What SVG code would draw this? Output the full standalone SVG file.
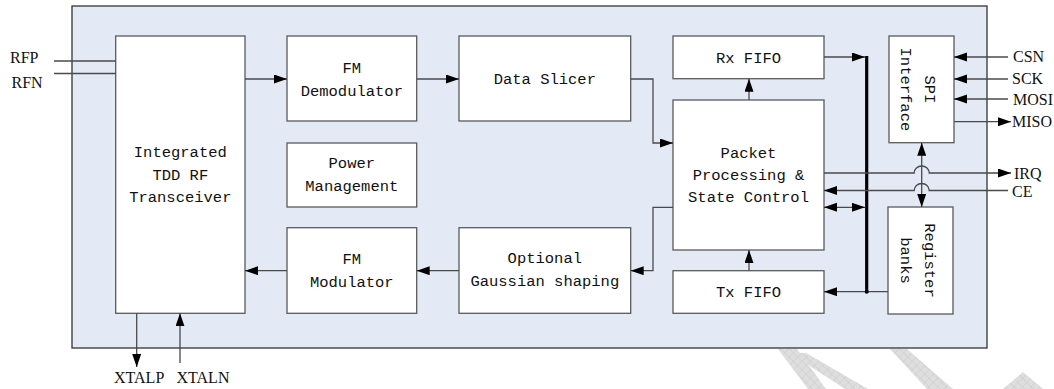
<svg xmlns="http://www.w3.org/2000/svg" width="1054" height="389" viewBox="0 0 1054 389">
  <defs>
    <marker id="arrow" markerUnits="userSpaceOnUse" markerWidth="14" markerHeight="10" refX="13" refY="4.5" orient="auto-start-reverse">
      <path d="M0,0 L13,4.5 L0,9 z" fill="#000"/>
    </marker>
    <pattern id="hatch" patternUnits="userSpaceOnUse" width="6" height="6" patternTransform="rotate(45)">
      <rect width="6" height="6" fill="#dedede"/>
      <path d="M0,0 H6 M0,0 V6" stroke="#cbcbcb" stroke-width="1"/>
    </pattern>
    <style>
      .frame { fill: #e4eaf5; stroke: #333; stroke-width: 1.3; }
      .box { fill: #fff; stroke: #5a5a5a; stroke-width: 1.3; }
      .t { font-family: "Liberation Mono", "DejaVu Sans Mono", monospace; font-size: 15.5px; fill: #111; text-anchor: middle; }
      .pin { font-family: "Liberation Serif", "Times New Roman", serif; font-size: 16px; fill: #111; }
      .wire { fill: none; stroke: #4a4a4a; stroke-width: 1.3; }
      .bus { fill: none; stroke: #000; stroke-width: 3.2; }
      .mark { fill: url(#hatch); stroke: none; }
    </style>
  </defs>

  <rect width="1054" height="389" fill="#fff"/>

  <!-- background marks below the chip outline -->
  <g id="background-marks">
    <polygon class="mark" points="778,349 797,349 826,389 808,389"/>
    <polygon class="mark" points="790,353 806,353 868,389 845,389"/>
    <polygon class="mark" points="890,349 907,349 953,389 927,389"/>
    <polygon class="mark" points="1023,372 1043,389 1003,389"/>
  </g>

  <!-- chip outline -->
  <rect id="chip" class="frame" x="72" y="6" width="915" height="342"/>

  <g id="transceiver">
    <rect class="box" x="115.7" y="36" width="129.3" height="277.3"/>
    <text class="t" x="180.3" y="157">Integrated</text>
    <text class="t" x="180.3" y="179.5">TDD RF</text>
    <text class="t" x="180.3" y="202">Transceiver</text>
  </g>

  <g id="fm-demodulator">
    <rect class="box" x="287" y="36" width="129.7" height="85"/>
    <text class="t" x="351.8" y="73">FM</text>
    <text class="t" x="351.8" y="96">Demodulator</text>
  </g>

  <g id="power-management">
    <rect class="box" x="287" y="143" width="129.7" height="64"/>
    <text class="t" x="351.8" y="168">Power</text>
    <text class="t" x="351.8" y="190.5">Management</text>
  </g>

  <g id="fm-modulator">
    <rect class="box" x="287" y="227.7" width="129.7" height="85.6"/>
    <text class="t" x="351.8" y="263.5">FM</text>
    <text class="t" x="351.8" y="287">Modulator</text>
  </g>

  <g id="data-slicer">
    <rect class="box" x="459" y="36" width="171.7" height="85"/>
    <text class="t" x="544.8" y="84">Data Slicer</text>
  </g>

  <g id="gaussian-shaping">
    <rect class="box" x="459" y="227.7" width="171.7" height="85.6"/>
    <text class="t" x="544.8" y="262.5">Optional</text>
    <text class="t" x="544.8" y="285.5">Gaussian shaping</text>
  </g>

  <g id="rx-fifo">
    <rect class="box" x="673" y="36" width="151" height="42.7"/>
    <text class="t" x="748.5" y="63">Rx FIFO</text>
  </g>

  <g id="packet-processing">
    <rect class="box" x="673" y="100" width="151" height="150"/>
    <text class="t" x="748.5" y="158">Packet</text>
    <text class="t" x="748.5" y="180">Processing &amp;</text>
    <text class="t" x="748.5" y="202">State Control</text>
  </g>

  <g id="tx-fifo">
    <rect class="box" x="673" y="270.7" width="151" height="42.6"/>
    <text class="t" x="748.5" y="297">Tx FIFO</text>
  </g>

  <g id="spi-interface">
    <rect class="box" x="889" y="36" width="65" height="106.7"/>
    <text class="t" transform="translate(925,89.4) rotate(90)">SPI</text>
    <text class="t" transform="translate(900.5,89.4) rotate(90)">Interface</text>
  </g>

  <g id="register-banks">
    <rect class="box" x="888" y="207" width="65" height="107"/>
    <text class="t" transform="translate(925,260.5) rotate(90)">Register</text>
    <text class="t" transform="translate(901,260.5) rotate(90)">banks</text>
  </g>

  <!-- signal wiring -->
  <g id="connectors">
    <path class="wire" d="M54,61 H115.7"/>
    <path class="wire" d="M54,73.5 H115.7"/>
    <path class="wire" d="M245,79 H287" marker-end="url(#arrow)"/>
    <path class="wire" d="M416.7,79 H459" marker-end="url(#arrow)"/>
    <path class="wire" d="M630.7,79 H653 V143 H673" marker-end="url(#arrow)"/>
    <path class="wire" d="M673,207.3 H653 V270.7 H630.7" marker-end="url(#arrow)"/>
    <path class="wire" d="M459,270.7 H416.7" marker-end="url(#arrow)"/>
    <path class="wire" d="M287,270.7 H245" marker-end="url(#arrow)"/>
    <path class="wire" d="M136.7,313.3 V367" marker-end="url(#arrow)"/>
    <path class="wire" d="M180,363 V313.3" marker-end="url(#arrow)"/>
    <path class="wire" d="M749,100 V78.7" marker-end="url(#arrow)"/>
    <path class="wire" d="M749,270.7 V250" marker-end="url(#arrow)"/>

    <!-- internal bus -->
    <path class="bus" d="M866.7,56 V292.5"/>
    <path class="wire" d="M824,57 H865" marker-end="url(#arrow)"/>
    <path class="wire" d="M824,207.3 H865" marker-start="url(#arrow)" marker-end="url(#arrow)"/>
    <path class="wire" d="M888,291.7 H824" marker-end="url(#arrow)"/>
    <circle cx="866.7" cy="291.7" r="2" fill="#000"/>

    <!-- SPI pins -->
    <path class="wire" d="M1008,57 H954" marker-end="url(#arrow)"/>
    <path class="wire" d="M1008,79 H954" marker-end="url(#arrow)"/>
    <path class="wire" d="M1008,99 H954" marker-end="url(#arrow)"/>
    <path class="wire" d="M954,121.7 H1011" marker-end="url(#arrow)"/>

    <!-- SPI to register banks -->
    <path class="wire" d="M921.7,142.7 V207" marker-start="url(#arrow)" marker-end="url(#arrow)"/>

    <!-- IRQ / CE with hops over the SPI link -->
    <path class="wire" d="M824,173 H914.2 A7.5,7 0 0 1 929.2,173 H1011" marker-end="url(#arrow)"/>
    <path class="wire" d="M1008,190.5 H929.2 A7.5,7 0 0 0 914.2,190.5 H824" marker-end="url(#arrow)"/>
  </g>

  <!-- pin labels -->
  <g id="pin-labels">
    <text class="pin" x="10" y="63">RFP</text>
    <text class="pin" x="11.5" y="88">RFN</text>
    <text class="pin" x="114" y="383">XTALP</text>
    <text class="pin" x="176.5" y="383">XTALN</text>
    <text class="pin" x="1013" y="62">CSN</text>
    <text class="pin" x="1012" y="83.5">SCK</text>
    <text class="pin" x="1013" y="105">MOSI</text>
    <text class="pin" x="1012" y="127">MISO</text>
    <text class="pin" x="1014" y="178.5">IRQ</text>
    <text class="pin" x="1012" y="197">CE</text>
  </g>
</svg>
